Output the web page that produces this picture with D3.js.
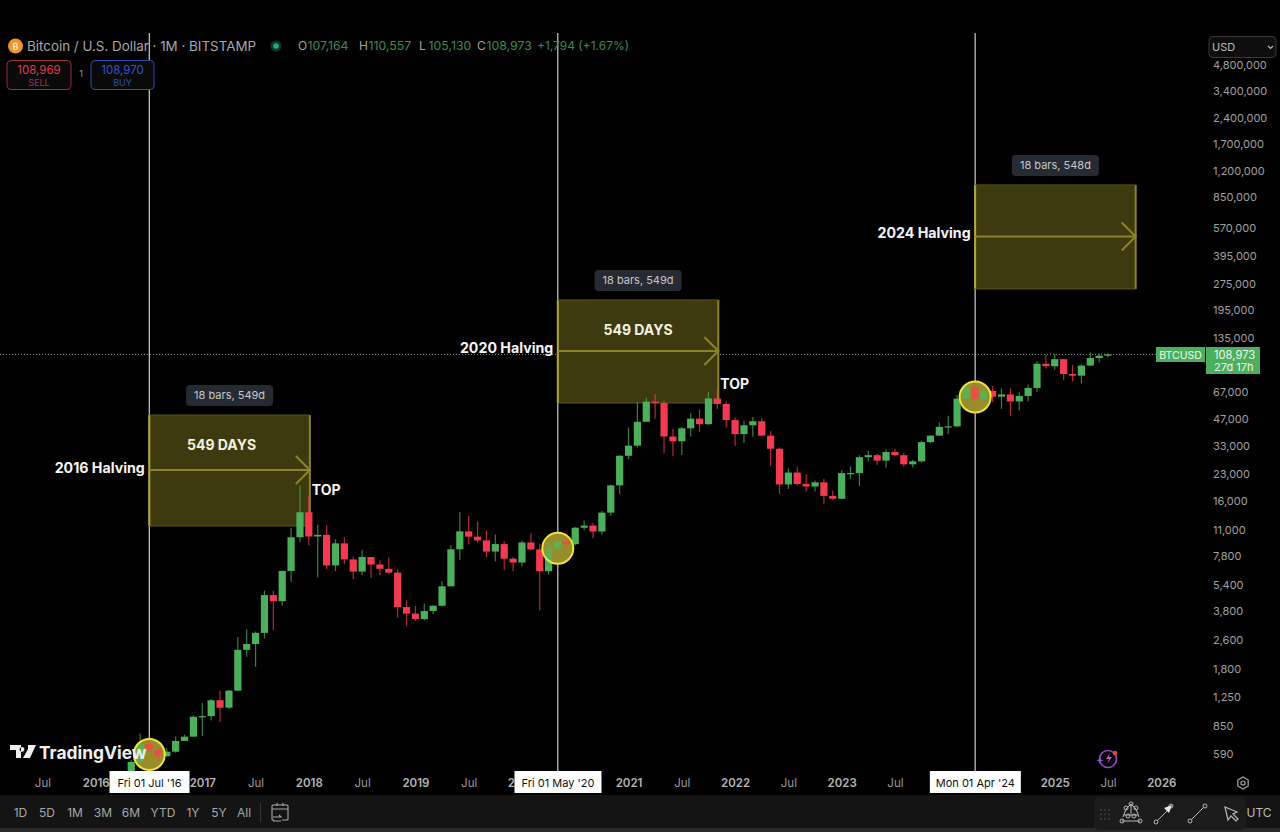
<!DOCTYPE html>
<html><head><meta charset="utf-8">
<style>
html,body{margin:0;padding:0;background:#000;width:1280px;height:832px;overflow:hidden}
svg{display:block}
text{font-family:Inter,"Noto Sans",sans-serif}
</style>
<script src="https://cdn.jsdelivr.net/npm/d3@7/dist/d3.min.js"></script>
</head><body><svg id="c" width="1280" height="832"></svg>
<script>
// Monthly candles, May 2016 .. Jul 2025
const firstBarMonth = "2016-05";
const opens = [448,532,672,622,573,608,700,740,
960,968,1190,1080,1350,2300,2480,2870,4700,4340,6440,10000,
13860,10100,10320,6925,9240,7490,6390,7730,7010,6625,6300,4020,
3690,3435,3815,4090,5270,8550,10800,10080,9600,8300,9150,7560,
7190,9350,8530,6420,8620,9450,9140,11330,11650,10780,13800,19700,
28990,33100,45200,58800,57700,37300,35040,41500,47100,43800,61300,57000,
46200,38500,43200,45500,37700,31800,19950,23300,20050,19420,20500,17170,
16540,23130,23140,28470,29230,27210,30470,29230,25940,26970,34650,37720,
42280,42580,61130,71300,60650,67520,62770,64620,58970,63330,70290,96450,
93390,102400,84350,82550,94200,103900,107164];
const highs = [545,770,704,623,640,740,760,975,
1150,1210,1350,1360,2720,3000,2920,4980,4980,6470,11300,19666,
17200,11780,11700,9760,10000,7780,8500,7400,7400,7680,6590,4400,
4080,4200,4120,5640,9000,13880,13200,12300,10940,10380,9520,7750,
9580,10520,9170,9470,10070,10370,11440,12480,12070,14100,19900,29300,
41950,58350,61800,64900,59500,41300,42400,50500,52900,67000,69000,59000,
47900,45800,48100,47400,39900,32400,24650,25200,22800,21000,21450,18400,
23950,25200,29200,31000,29800,31400,31800,30200,27500,35200,38000,44700,
48900,64000,73800,72800,71900,72000,70000,70000,66500,73600,99800,108300,
109300,102500,95000,95800,112000,110400,110557];
const lows = [436,515,605,480,570,600,700,740,
746,915,895,1060,1340,2100,1840,2670,2990,4100,5590,9400,
9000,5920,6600,6430,7030,5780,6100,5880,6100,6200,3500,3120,
3350,3380,3670,4050,5320,7450,9100,9350,7700,7300,6510,6430,
6850,8420,3850,6150,8100,8900,8980,10990,9880,10370,13210,17600,
27730,32250,45000,47000,30000,28800,29300,37300,39600,43300,53500,42000,
32950,34300,37200,37700,25400,17600,18800,19600,18150,18200,15480,16260,
16500,21400,19600,26950,25800,24800,28900,25100,24900,26500,34100,37600,
38500,41900,59200,59600,56500,58400,53500,49000,52500,58900,66800,90500,
89200,78200,76600,74500,93400,98200,105130];
const closes = [532,672,622,573,608,700,740,960,
968,1190,1080,1350,2300,2480,2870,4700,4340,6440,10000,13860,
10100,10320,6925,9240,7490,6390,7730,7010,6625,6300,4020,3690,
3435,3815,4090,5270,8550,10800,10080,9600,8300,9150,7560,7190,
9350,8530,6420,8620,9450,9140,11330,11650,10780,13800,19700,28990,
33100,45200,58800,57700,37300,35040,41500,47100,43800,61300,57000,46200,
38500,43200,45500,37700,31800,19950,23300,20050,19420,20500,17170,16540,
23130,23140,28470,29230,27210,30470,29230,25940,26970,34650,37720,42280,
42580,61130,71300,60650,67520,62770,64620,58970,63330,70290,96450,93390,
102400,84350,82550,94200,103900,107164,108973];

const priceTicks = [4800000,3400000,2400000,1700000,1200000,850000,570000,395000,275000,195000,135000,67000,47000,33000,23000,16000,11000,7800,5400,3800,2600,1800,1250,850,590];
const timeTickMonths = ["2015-07","2016-01","2017-01","2017-07","2018-01","2018-07","2019-01","2019-07","2020-01","2021-01","2021-07","2022-01","2022-07","2023-01","2023-07","2025-01","2025-07","2026-01"];
const timeTickLabels = ["Jul","2016","2017","Jul","2018","Jul","2019","Jul","2020","2021","Jul","2022","Jul","2023","Jul","2025","Jul","2026"];

const halvingMonths = ["2016-07","2020-05","2024-04"];
const halvingNames = ["2016 Halving","2020 Halving","2024 Halving"];
const halvingDates = ["Fri 01 Jul '16","Fri 01 May '20","Mon 01 Apr '24"];
const boxTops = [49400,221900,996500];
const boxBottoms = [11590,57760,256100];
const boxBars = [18,18,18];
const boxDays = ["18 bars, 549d","18 bars, 549d","18 bars, 548d"];
const boxTexts = ["549 DAYS","549 DAYS",""];
const circlePrices = [586,8660,62500];
const topLabelPrices = [18500,74100];
const lastPrice = 108973;

const mi = s => { const [y,m] = s.split("-").map(Number); return (y-2016)*12 + m - 5; };
const x = d3.scaleLinear().domain([0,100]).range([131.25,131.25+888]);
const y = d3.scaleLog().domain([590,135000]).range([754,338]);

const GREEN="#4caf5c", RED="#f23a50";
const svg = d3.select("#c");
svg.append("rect").attr("width",1280).attr("height",832).attr("fill","#000");

const bars = closes.map((c,i)=>({i,o:opens[i],h:highs[i],l:lows[i],c}));
// last-price dotted line
svg.append("line").attr("x1",0).attr("x2",1156).attr("y1",y(lastPrice)).attr("y2",y(lastPrice))
  .attr("stroke","#8a8a8a").attr("stroke-width",1).attr("stroke-dasharray","1 2");

// halving verticals
svg.selectAll(".vl").data(halvingMonths).join("line").attr("class","vl")
  .attr("x1",d=>x(mi(d))+.3).attr("x2",d=>x(mi(d))+.3).attr("y1",33).attr("y2",771)
  .attr("stroke","#cfcfcf").attr("stroke-width",1.2);

// halving circle fills (below candles)
svg.selectAll(".cf").data(halvingMonths).join("circle").attr("class","cf")
  .attr("cx",d=>x(mi(d))+.3).attr("cy",(d,i)=>y(circlePrices[i])).attr("r",15.5)
  .attr("fill","#8f8528");

// boxes (below candles)
const boxG = svg.append("g");
halvingMonths.forEach((m,i)=>{
  const x0=x(mi(m))+.3, x1=x(mi(m)+boxBars[i])+1, t=y(boxTops[i]), b=y(boxBottoms[i]), mid=(t+b)/2-.5;
  boxG.append("rect").attr("x",x0).attr("y",t).attr("width",x1-x0).attr("height",b-t).attr("fill","#3e3a10");
  boxG.append("line").attr("x1",x0).attr("x2",x0).attr("y1",t).attr("y2",b).attr("stroke","#b3a932").attr("stroke-width",2);
  boxG.append("line").attr("x1",x1).attr("x2",x1).attr("y1",t).attr("y2",b).attr("stroke","#8c8428").attr("stroke-width",2);
  boxG.append("line").attr("x1",x0).attr("x2",x1).attr("y1",t).attr("y2",t).attr("stroke","#5a5418").attr("stroke-width",1);
  boxG.append("line").attr("x1",x0).attr("x2",x1).attr("y1",b).attr("y2",b).attr("stroke","#5a5418").attr("stroke-width",1);
  boxG.append("line").attr("x1",x0).attr("x2",x1).attr("y1",mid).attr("y2",mid).attr("stroke","#8c8428").attr("stroke-width",2);
  boxG.append("path").attr("d",`M${x1-14},${mid-14}L${x1},${mid}L${x1-14},${mid+14}`).attr("fill","none").attr("stroke","#8c8428").attr("stroke-width",2);
});

// candles
const cg = svg.append("g");
cg.selectAll(".w").data(bars).join("rect").attr("class","w")
  .attr("x",d=>x(d.i)-.6).attr("width",1.2)
  .attr("y",d=>y(d.h)).attr("height",d=>y(d.l)-y(d.h))
  .attr("fill",d=>d.c>=d.o?GREEN:RED).attr("opacity",.72);
cg.selectAll(".b").data(bars).join("rect").attr("class","b")
  .attr("x",d=>x(d.i)-3.6).attr("width",7.2)
  .attr("y",d=>y(Math.max(d.o,d.c))).attr("height",d=>Math.max(1.2,Math.abs(y(d.o)-y(d.c))))
  .attr("fill",d=>d.c>=d.o?GREEN:RED);

// halving circle veil and ring
svg.selectAll(".ci").data(halvingMonths).join("circle").attr("class","ci")
  .attr("cx",d=>x(mi(d))+.3).attr("cy",(d,i)=>y(circlePrices[i])).attr("r",15.5)
  .attr("fill","rgba(190,175,50,.2)").attr("stroke","#eee53a").attr("stroke-width",2);

// box labels
halvingMonths.forEach((m,i)=>{
  const x0=x(mi(m))+.3, x1=x(mi(m)+boxBars[i])+1, t=y(boxTops[i]), b=y(boxBottoms[i]), mid=(t+b)/2;
  const tagY=t-30, cx=(x0+x1)/2;
  boxG.append("rect").attr("x",cx-43.5).attr("y",tagY).attr("width",87).attr("height",21).attr("rx",4).attr("fill","#262a33");
  boxG.append("text").attr("x",cx).attr("y",tagY+14.5).attr("text-anchor","middle").attr("fill","#c8c8c8").attr("font-size",11).text(boxDays[i]);
  if(boxTexts[i]) svg.append("text").attr("x",cx-(i===0?8:0)).attr("y",t+35).attr("text-anchor","middle").attr("fill","#f4f1df").attr("font-weight",700).attr("font-size",14).text(boxTexts[i]);
  svg.append("text").attr("x",x0-4.5).attr("y",mid+(i===0?2.5:1.5)).attr("text-anchor","end").attr("fill","#f5f5f5").attr("font-weight",700).attr("font-size",14.2).text(halvingNames[i]);
  if(i<2) svg.append("text").attr("x",x1+2).attr("y",y(topLabelPrices[i])+5).attr("fill","#f5f5f5").attr("font-weight",700).attr("font-size",14).text("TOP");
});

// price axis
const yAxis = d3.axisRight(y).tickValues(priceTicks).tickFormat(d3.format(",")).tickSize(0).tickPadding(0);
const ga = svg.append("g").attr("transform","translate(1213,0)").call(yAxis);
ga.select(".domain").remove();
ga.selectAll("text").attr("fill","#a0a0a0").attr("font-size",11).attr("font-family","Inter,sans-serif");

// time axis
const xAxis = d3.axisBottom(x).tickValues(timeTickMonths.map(mi)).tickFormat((d,i)=>timeTickLabels[i]).tickSize(0).tickPadding(0);
const gt = svg.append("g").attr("transform","translate(0,779)").call(xAxis);
gt.select(".domain").remove();
gt.selectAll("text").attr("font-size",11.5).attr("font-family","Inter,sans-serif")
  .attr("fill",(d,i)=>timeTickLabels[i]==="Jul"?"#9a9a9a":"#b4b4b4")
  .attr("font-weight",(d,i)=>timeTickLabels[i]==="Jul"?400:600);

// halving date tags
halvingMonths.forEach((m,i)=>{
  const cx=x(mi(m))+.5, w=[80,87,91][i];
  svg.append("rect").attr("x",cx-w/2).attr("y",771).attr("width",w).attr("height",22).attr("fill","#fff");
  svg.append("text").attr("x",cx).attr("y",786.5).attr("text-anchor","middle").attr("fill","#111").attr("font-size",11).text(halvingDates[i]);
});

// last price tag
svg.append("rect").attr("x",1156).attr("y",347).attr("width",49).attr("height",15).attr("fill",GREEN);
svg.append("text").attr("x",1180.5).attr("y",358.5).attr("text-anchor","middle").attr("fill","#eef7ef").attr("font-size",10.5).text("BTCUSD");
svg.append("rect").attr("x",1206).attr("y",347).attr("width",54).attr("height",27).attr("fill",GREEN);
svg.append("text").attr("x",1214).attr("y",358.5).attr("fill","#eef7ef").attr("font-size",11.2).text(d3.format(",")(lastPrice));
svg.append("text").attr("x",1214).attr("y",371).attr("fill","#eef7ef").attr("font-size",11).text("27d 17h");

// header
svg.append("circle").attr("cx",15.5).attr("cy",46).attr("r",7.5).attr("fill","#f0942e");
svg.append("text").attr("x",15.5).attr("y",49.5).attr("text-anchor","middle").attr("fill","#fde3c2").attr("font-size",9).attr("font-weight",700).text("₿");
svg.append("text").attr("x",27).attr("y",51).attr("fill","#a8a8a8").attr("font-size",13.4).text("Bitcoin / U.S. Dollar · 1M · BITSTAMP");
svg.append("circle").attr("cx",276).attr("cy",46).attr("r",5.5).attr("fill","#0c3a2a");
svg.append("circle").attr("cx",276).attr("cy",46).attr("r",2.8).attr("fill","#26a67a");
const ohlcLabels=["O","H","L","C"], ohlcXs=[298,359,419,477], ohlcVals=[107164,110557,105130,108973];
ohlcLabels.forEach((l,i)=>{
  svg.append("text").attr("x",ohlcXs[i]).attr("y",50).attr("fill","#a0a0a0").attr("font-size",12).text(l);
  svg.append("text").attr("x",ohlcXs[i]+9.5).attr("y",50).attr("fill","#3d8a50").attr("font-size",12.3).text(d3.format(",")(ohlcVals[i]));
});
svg.append("text").attr("x",537).attr("y",50).attr("fill","#3d8a50").attr("font-size",12).text("+1,794 (+1.67%)");

// sell / buy
[[7,"108,969","SELL","#e03a4a","#a02a38","#a83040"],[91,"108,970","BUY","#2e55d0","#2a4cb0","#2e4eb0"]].forEach(([bx,val,lab,c1,c2,c3])=>{
  const w=bx===7?64:63;
  svg.append("rect").attr("x",bx).attr("y",60.5).attr("width",w).attr("height",29).attr("rx",4).attr("fill","#0a0a0a").attr("stroke",c2);
  svg.append("text").attr("x",bx+w/2).attr("y",74).attr("text-anchor","middle").attr("fill",c1).attr("font-size",11.5).text(val);
  svg.append("text").attr("x",bx+w/2).attr("y",86).attr("text-anchor","middle").attr("fill",c3).attr("font-size",9).text(lab);
});
svg.append("text").attr("x",81).attr("y",77).attr("text-anchor","middle").attr("fill","#999").attr("font-size",9).text("1");

// USD select
svg.append("rect").attr("x",1209).attr("y",36.5).attr("width",67).attr("height",21).attr("rx",4).attr("fill","#0e0e0e").attr("stroke","#3a3a3a");
svg.append("text").attr("x",1212).attr("y",51).attr("fill","#bdbdbd").attr("font-size",11).text("USD");
svg.append("path").attr("d","M1268,46l2.5,2.5l2.5,-2.5").attr("fill","none").attr("stroke","#bbb").attr("stroke-width",1.2);

// TradingView logo
svg.append("path").attr("fill","#eee").attr("d","M10,745h11v13h-5v-8h-6zM28,745h8l-6,13h-7l5,-9zM22,747a2.4,2.4 0 1,0 .01,0z");
svg.append("text").attr("x",39).attr("y",758.5).attr("fill","#f0f0f0").attr("font-size",17.4).attr("font-weight",700).text("TradingView");

// sparkle icon
svg.append("circle").attr("cx",1108).attr("cy",759).attr("r",8.5).attr("fill","none").attr("stroke","#9b46c8").attr("stroke-width",1.6);
svg.append("path").attr("d","M1110,753l-4,6h3l-2,5l5,-7h-3z").attr("fill","#c050d0");
svg.append("circle").attr("cx",1115).attr("cy",753).attr("r",2.2).attr("fill","#e04a3a");
svg.append("path").attr("d","M1100,757l1,2.5l2.5,1l-2.5,1l-1,2.5l-1,-2.5l-2.5,-1l2.5,-1z").attr("fill","#7a5ae0");

// gear
svg.append("path").attr("d","M1243,777l5.2,3v6l-5.2,3l-5.2,-3v-6z").attr("fill","none").attr("stroke","#a8a8a8").attr("stroke-width",1.2);
svg.append("circle").attr("cx",1243).attr("cy",783).attr("r",2).attr("fill","none").attr("stroke","#a8a8a8").attr("stroke-width",1.2);

// bottom toolbar
svg.append("rect").attr("y",795).attr("width",1280).attr("height",33).attr("fill","#141414");
svg.append("rect").attr("y",828).attr("width",1280).attr("height",4).attr("fill","#2a2a2a");
const ranges=["1D","5D","1M","3M","6M","YTD","1Y","5Y","All"], rangeXs=[20.5,47,75,103,131,163,193,219,244];
ranges.forEach((r,i)=>svg.append("text").attr("x",rangeXs[i]).attr("y",817).attr("text-anchor","middle").attr("fill","#a8a8a8").attr("font-size",12).text(r));
svg.append("line").attr("x1",260.5).attr("x2",260.5).attr("y1",803).attr("y2",822).attr("stroke","#333");
svg.append("path").attr("fill","none").attr("stroke","#a8a8a8").attr("stroke-width",1.1)
  .attr("d","M274,820h-1a1,1 0 0,1 -1,-1v-13a1,1 0 0,1 1,-1h14a1,1 0 0,1 1,1v13a1,1 0 0,1 -1,1h-5M272,809h16M277,803v3M283,803v3M273,817h8l-2,-2M281,821h-8");
// drawing tools
svg.append("rect").attr("x",1094).attr("y",797).attr("width",152).attr("height",33).attr("rx",5).attr("fill","#1b1b1b");
for(let a=0;a<3;a++)for(let b=0;b<3;b++) svg.append("circle").attr("cx",1101+a*4).attr("cy",810+b*4.5).attr("r",.9).attr("fill","#444");
const node=(px,py)=>svg.append("circle").attr("cx",px).attr("cy",py).attr("r",2).attr("fill","none").attr("stroke","#b8b8b8");
svg.append("path").attr("fill","none").attr("stroke","#b8b8b8").attr("d","M1123,817l3,-8l5,-5l5,5l3,8M1122,821h18M1124,815h14M1131,804v10");
[[1122,821],[1140,821],[1131,804],[1126,808],[1136,808],[1128,816],[1134,816]].forEach(p=>node(...p));
svg.append("line").attr("x1",1157).attr("y1",821).attr("x2",1170).attr("y2",808).attr("stroke","#b8b8b8");
node(1156,822);node(1171,806);
svg.append("path").attr("d","M1172,805l-8,3l5,5z").attr("fill","#e8e8e8");
svg.append("line").attr("x1",1191).attr("y1",820).attr("x2",1204).attr("y2",807).attr("stroke","#b8b8b8");
node(1190,821);node(1205,806);
svg.append("path").attr("d","M1225,807l3,13l3,-4l5,5l2,-2l-5,-5l4,-2z").attr("fill","none").attr("stroke","#b8b8b8").attr("stroke-width",1.2);
svg.append("text").attr("x",1259).attr("y",817).attr("text-anchor","middle").attr("fill","#bdbdbd").attr("font-size",12).text("UTC");
</script></body></html>
